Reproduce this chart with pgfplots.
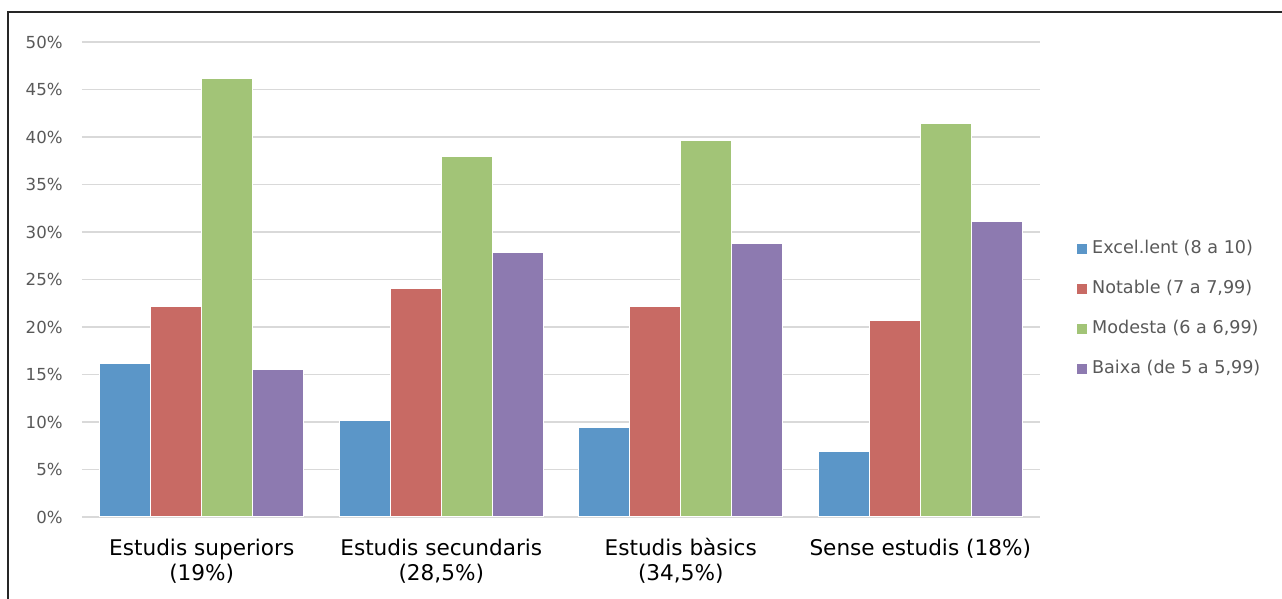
\documentclass[border=0pt]{standalone}
\usepackage{fontspec}
\setmainfont{DejaVu Sans}
\usepackage{pgfplots}
\usepackage{pgfplotstable}
\pgfplotsset{compat=1.18}

\definecolor{cExc}{HTML}{5B96C8}
\definecolor{cNot}{HTML}{C86A64}
\definecolor{cMod}{HTML}{A2C477}
\definecolor{cBai}{HTML}{8D7AB0}
\definecolor{txtgrey}{HTML}{595959}
\definecolor{gridgrey}{HTML}{D9D9D9}

% percentatges per nivell d'estudis
\pgfplotstableread{
grp exc  nota mod  baixa
0   16.2 22.2 46.2 15.5
1   10.2 24.1 38.0 27.9
2   9.4  22.2 39.6 28.8
3   6.9  20.7 41.4 31.1
}\dades

\begin{document}
\begin{tikzpicture}
  \useasboundingbox (0,0) rectangle (641pt,299.5pt);
  \draw[line width=0.75pt, color=black!85] (4pt,0) -- (4pt,293.5pt) -- (641pt,293.5pt);
  \begin{axis}[
      at={(41pt,41pt)}, anchor=south west,
      scale only axis, width=479pt, height=237.5pt,
      ybar=0pt, bar width=25.5pt,
      xmin=-0.5, xmax=3.5, ymin=0, ymax=50,
      xtick=data,
      xticklabels={{\vphantom{à}Estudis superiors\\(19\%)},{\vphantom{à}Estudis secundaris\\(28,5\%)},{\vphantom{à}Estudis bàsics\\(34,5\%)},{\vphantom{à}Sense estudis (18\%)}},
      ytick={0,5,...,50},
      yticklabel={\pgfmathprintnumber{\tick}\%},
      /pgf/number format/assume math mode=true,
      axis line style={draw=none},
      major tick length=0pt,
      ymajorgrids, grid style={color=gridgrey, line width=0.8pt},
      yticklabel style={font=\fontsize{8.3}{9.8}\selectfont, text=txtgrey, inner sep=0pt, xshift=-9.5pt},
      xticklabel style={font=\fontsize{10.8}{12.6}\selectfont, align=center, anchor=north, inner sep=0pt, yshift=-10.4pt},
      legend style={at={(1.0302,0.438)}, anchor=west, draw=none, fill=none,
        font=\fontsize{8.8}{10}\selectfont, text=txtgrey, row sep=12.5pt,
        nodes={inner xsep=2pt, inner ysep=0pt, text height=6pt, text depth=1.5pt}},
      legend cell align=left,
      legend image code/.code={\fill[#1] (0pt,-2.9pt) rectangle (5.8pt,2.9pt);},
    ]
    \addplot[fill=cExc, draw=white, line width=0.6pt] table[x=grp, y=exc] {\dades};
    \addlegendentry{Excel.lent (8 a 10)}
    \addplot[fill=cNot, draw=white, line width=0.6pt] table[x=grp, y=nota] {\dades};
    \addlegendentry{Notable (7 a 7,99)}
    \addplot[fill=cMod, draw=white, line width=0.6pt] table[x=grp, y=mod] {\dades};
    \addlegendentry{Modesta (6 a 6,99)}
    \addplot[fill=cBai, draw=white, line width=0.6pt] table[x=grp, y=baixa] {\dades};
    \addlegendentry{Baixa (de 5 a 5,99)}
  \end{axis}
\end{tikzpicture}
\end{document}
